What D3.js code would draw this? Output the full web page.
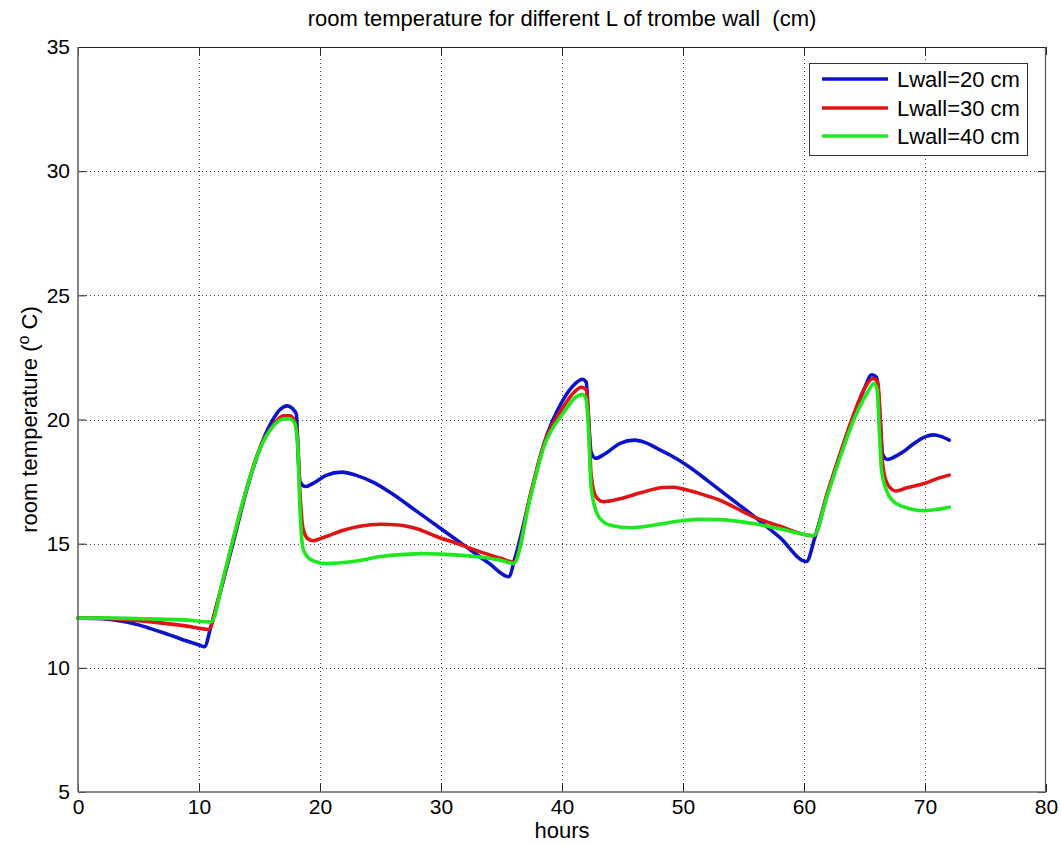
<!DOCTYPE html>
<html>
<head>
<meta charset="utf-8">
<script src="https://cdn.jsdelivr.net/npm/d3@7"></script>
<style>
  html, body { margin: 0; padding: 0; background: #fff; }
  svg { display: block; font-family: "Liberation Sans", Arial, Helvetica, sans-serif; }
  text { white-space: pre; }
</style>
</head>
<body>
<svg id="chart" width="1061" height="845"></svg>
<script>
// Room temperature (°C) against time (hours) for three trombe wall thicknesses.
const titleText = "room temperature for different L of trombe wall  (cm)";
const xLabel = "hours";
const xTicks = [0, 10, 20, 30, 40, 50, 60, 70, 80];
const yTicks = [5, 10, 15, 20, 25, 30, 35];
const seriesNames = ["Lwall=20 cm", "Lwall=30 cm", "Lwall=40 cm"];
const seriesColors = ["#0b14c8", "#e01414", "#1ee81e"];

// [hour, temperature] samples
const lwall20 = [
  [0, 12.0], [2, 11.98], [3, 11.93], [4, 11.85], [5, 11.73], [6, 11.58], [7, 11.42],
  [8, 11.25], [9, 11.08], [10, 10.92], [10.45, 10.85], [11.0, 11.7], [12.0, 13.5],
  [12.8, 15.0], [13.9, 17.1], [15.0, 18.8], [16.0, 19.9], [16.7, 20.4], [17.3, 20.55],
  [17.7, 20.45], [18.05, 20.2], [18.2, 18.5], [18.35, 17.5], [18.8, 17.3], [19.5, 17.45],
  [20.5, 17.75], [21.8, 17.88], [23, 17.75], [24.5, 17.45], [26, 17.0], [28, 16.3],
  [30, 15.6], [32, 14.9], [34, 14.2], [35.6, 13.67], [36.1, 14.4], [37.4, 16.95],
  [38.5, 19.0], [40.1, 20.8], [41.0, 21.4], [41.7, 21.62], [42.0, 21.5], [42.2, 20.0],
  [42.4, 18.7], [42.8, 18.44], [43.5, 18.6], [44.8, 19.04], [46, 19.17], [47, 19.05],
  [48, 18.8], [49, 18.55], [50.5, 18.1], [52, 17.55], [54, 16.8], [56, 16.05],
  [58, 15.25], [60.2, 14.28], [60.9, 15.25], [61.9, 16.95], [63.0, 18.6], [64.1, 20.1],
  [65.0, 21.25], [65.6, 21.8], [66.0, 21.7], [66.3, 20.0], [66.5, 18.6], [66.9, 18.39],
  [67.5, 18.5], [68.2, 18.7], [69, 19.0], [70, 19.3], [70.7, 19.38], [71.3, 19.32], [72, 19.17]
];
const lwall30 = [
  [0, 12.0], [2, 12.0], [3, 11.97], [5, 11.9], [7, 11.8], [9, 11.68], [10.8, 11.55],
  [11.5, 12.6], [12, 13.55], [12.8, 15.1], [13.9, 17.15], [15.0, 18.8], [16.1, 19.75],
  [17.0, 20.15], [17.5, 20.15], [17.9, 19.95], [18.15, 19.2], [18.35, 17.0], [18.6, 15.6],
  [19.0, 15.2], [19.45, 15.12], [20, 15.2], [20.8, 15.34], [22, 15.55], [23.3, 15.7],
  [25, 15.78], [26.5, 15.75], [28, 15.6], [30, 15.22], [31, 15.07], [33.2, 14.68],
  [35, 14.4], [36.0, 14.25], [37.4, 17.0], [38.5, 19.0], [40.1, 20.5], [41.0, 21.1],
  [41.6, 21.3], [42.0, 21.2], [42.2, 20.0], [42.4, 17.8], [42.8, 16.9], [43.4, 16.69],
  [44.8, 16.81], [46.5, 17.05], [48.4, 17.26], [49.2, 17.27], [50, 17.2], [51.5, 17.0],
  [53, 16.76], [55.8, 16.09], [58, 15.7], [60.8, 15.31], [61.9, 17.0], [63.0, 18.65],
  [64.1, 20.2], [65.0, 21.25], [65.7, 21.65], [66.1, 21.5], [66.3, 20.0], [66.5, 18.2],
  [66.9, 17.4], [67.6, 17.12], [68.5, 17.25], [70, 17.43], [71, 17.62], [72, 17.76]
];
const lwall40 = [
  [0, 12.0], [3, 12.0], [6, 11.97], [9, 11.92], [11.0, 11.85], [12, 13.6], [12.8, 15.15],
  [13.9, 17.16], [15.0, 18.77], [16.1, 19.71], [17.0, 20.02], [17.5, 20.02], [17.9, 19.85],
  [18.15, 19.0], [18.35, 16.3], [18.6, 14.8], [19.0, 14.45], [19.5, 14.3], [20.5, 14.2],
  [21.5, 14.22], [23.3, 14.32], [25, 14.48], [27, 14.57], [28.5, 14.6], [30, 14.58],
  [32, 14.52], [33.2, 14.46], [35, 14.32], [36.0, 14.2], [37.4, 16.9], [38.5, 18.9],
  [40.1, 20.25], [41.2, 20.92], [41.7, 21.0], [42.0, 20.8], [42.2, 19.5], [42.4, 17.3],
  [42.9, 16.2], [43.5, 15.85], [44.2, 15.72], [45.6, 15.64], [47, 15.7], [48.1, 15.79],
  [50, 15.93], [51.5, 15.98], [53, 15.97], [55.8, 15.81], [58, 15.6], [60.8, 15.33],
  [61.9, 16.9], [63.0, 18.5], [64.1, 19.98], [65.2, 21.05], [65.8, 21.45], [66.05, 21.2],
  [66.2, 19.8], [66.4, 18.0], [66.8, 17.16], [67.4, 16.7], [68.2, 16.49], [69, 16.38],
  [70, 16.33], [71, 16.38], [72, 16.47]
];
const seriesData = [lwall20, lwall30, lwall40];

const svg = d3.select("#chart");
const margin = { left: 78, top: 47, right: 1061 - 1046, bottom: 845 - 792 };
const W = 1061 - margin.left - margin.right;
const H = 845 - margin.top - margin.bottom;
const tickFont = 21;
const labelFont = 22;

const x = d3.scaleLinear().domain([0, 80]).range([0, W]);
const y = d3.scaleLinear().domain([5, 35]).range([H, 0]);

svg.append("rect").attr("width", 1061).attr("height", 845).attr("fill", "#fff");
const g = svg.append("g").attr("transform", `translate(${margin.left},${margin.top})`);

// dotted grid
const grid = g.append("g").attr("stroke", "#444").attr("stroke-width", 1)
  .attr("stroke-dasharray", "1,3");
grid.selectAll("line.gx").data(xTicks.slice(1, -1)).join("line")
  .attr("x1", d => Math.round(x(d)) + 0.5).attr("x2", d => Math.round(x(d)) + 0.5)
  .attr("y1", 0).attr("y2", H);
grid.selectAll("line.gy").data(yTicks.slice(1, -1)).join("line")
  .attr("y1", d => Math.round(y(d)) + 0.5).attr("y2", d => Math.round(y(d)) + 0.5)
  .attr("x1", 0).attr("x2", W);

// series
const line = d3.line().x(d => x(d[0])).y(d => y(d[1])).curve(d3.curveMonotoneX);
g.selectAll("path.series").data(seriesData).join("path")
  .attr("class", "series")
  .attr("d", line)
  .attr("fill", "none")
  .attr("stroke", (d, i) => seriesColors[i])
  .attr("stroke-width", 3.6)
  .attr("stroke-linejoin", "round")
  .attr("stroke-linecap", "round");

// axes with inward ticks on all four sides
function styleAxis(sel) {
  sel.select(".domain").remove();
  sel.selectAll(".tick line").attr("stroke", "#222");
  sel.selectAll(".tick text").attr("fill", "#000")
    .style("font-size", tickFont + "px")
    .style("font-family", "'Liberation Sans', Arial, Helvetica, sans-serif");
}
g.append("g").attr("transform", `translate(0,${H})`)
  .call(d3.axisBottom(x).tickValues(xTicks).tickFormat(d3.format("d"))
    .tickSizeInner(-8).tickSizeOuter(0).tickPadding(7))
  .call(styleAxis);
g.append("g")
  .call(d3.axisLeft(y).tickValues(yTicks).tickFormat(d3.format("d"))
    .tickSizeInner(-8).tickSizeOuter(0).tickPadding(8))
  .call(styleAxis);
g.append("g")
  .call(d3.axisTop(x).tickValues(xTicks).tickFormat("").tickSizeInner(-8).tickSizeOuter(0))
  .call(styleAxis);
g.append("g").attr("transform", `translate(${W},0)`)
  .call(d3.axisRight(y).tickValues(yTicks).tickFormat("").tickSizeInner(-8).tickSizeOuter(0))
  .call(styleAxis);

// axes box
g.append("line").attr("x1", 0).attr("x2", W).attr("y1", 0.5).attr("y2", 0.5)
  .attr("stroke", "#222").attr("stroke-width", 1);
g.append("line").attr("x1", W - 0.5).attr("x2", W - 0.5).attr("y1", 0).attr("y2", H)
  .attr("stroke", "#555").attr("stroke-width", 1.2);
g.append("line").attr("x1", 0).attr("x2", W).attr("y1", H).attr("y2", H)
  .attr("stroke", "#666").attr("stroke-width", 1.6);
g.append("line").attr("x1", 0).attr("x2", 0).attr("y1", 0).attr("y2", H)
  .attr("stroke", "#666").attr("stroke-width", 1.6);

// title and axis labels
svg.append("text").attr("x", margin.left + W / 2).attr("y", 26)
  .attr("text-anchor", "middle").style("font-size", labelFont + "px").text(titleText);
svg.append("text").attr("x", margin.left + W / 2).attr("y", 838)
  .attr("text-anchor", "middle").style("font-size", labelFont + "px").text(xLabel);
const yl = svg.append("text")
  .attr("transform", `translate(37,${margin.top + H / 2}) rotate(-90)`)
  .attr("text-anchor", "middle").style("font-size", labelFont + "px");
yl.append("tspan").text("room temperature (");
yl.append("tspan").attr("dy", -8).style("font-size", "16px").text("o");
yl.append("tspan").attr("dy", 8).text(" C)");

// legend
const lg = svg.append("g");
lg.append("rect").attr("x", 809.5).attr("y", 63.5).attr("width", 218).attr("height", 92)
  .attr("fill", "#fff").attr("stroke", "#333").attr("stroke-width", 1);
const legendRows = [79, 108, 136];
seriesNames.forEach((name, i) => {
  lg.append("line").attr("x1", 822).attr("x2", 888)
    .attr("y1", legendRows[i]).attr("y2", legendRows[i])
    .attr("stroke", seriesColors[i]).attr("stroke-width", 3.6);
  lg.append("text").attr("x", 897).attr("y", legendRows[i] + 8)
    .style("font-size", labelFont + "px").text(name);
});
</script>
</body>
</html>
